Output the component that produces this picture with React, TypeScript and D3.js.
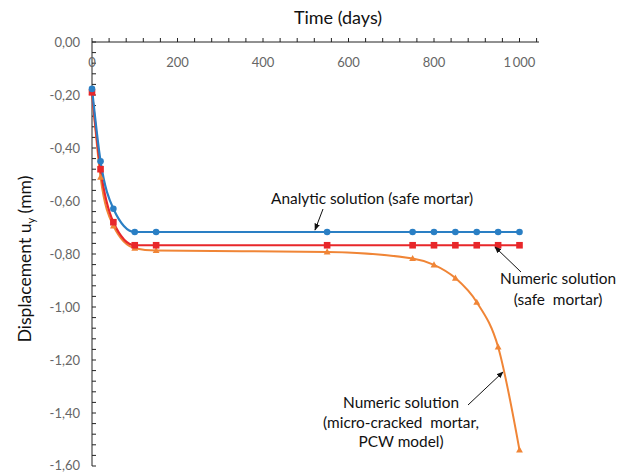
import React from "react";
import * as d3 from "d3";

const times = [0, 20, 50, 100, 150, 550, 750, 800, 850, 900, 950, 1000];
const analytic = [-0.177, -0.45, -0.629, -0.717, -0.717, -0.717, -0.717, -0.717, -0.717, -0.717, -0.717, -0.717];
const numericSafe = [-0.19, -0.48, -0.68, -0.767, -0.767, -0.767, -0.767, -0.767, -0.767, -0.767, -0.767, -0.767];
const numericCracked = [-0.19, -0.51, -0.694, -0.778, -0.787, -0.792, -0.817, -0.841, -0.891, -0.982, -1.151, -1.54];

const xMajorTicks = [0, 200, 400, 600, 800, 1000];
const yMajorTicks = [0, -0.2, -0.4, -0.6, -0.8, -1.0, -1.2, -1.4, -1.6];

const W = 629;
const H = 472;

export default function App() {
  const x = d3.scaleLinear().domain([0, 1040]).range([92, 536.6]);
  const y = d3.scaleLinear().domain([0, -1.6]).range([42, 466]);

  const xMinor = d3.range(0, 1041, 40);
  const yMinor = d3.range(0, 41, 1).map((i) => -i * 0.04);

  const line = (vals: number[]) =>
    d3
      .line<number>()
      .x((_, i) => x(times[i]))
      .y((v) => y(v))
      .curve(d3.curveMonotoneX)(vals) || "";

  const fmtY = (v: number) => v.toFixed(2).replace(".", ",").replace("-0,00", "0,00");
  const fmtX = (v: number) => (v >= 1000 ? "1\u2009000" : String(v));

  const blue = "#2A7FC4";
  const red = "#E8272A";
  const orange = "#F08536";
  const font = "Lato, 'Open Sans', sans-serif";
  const af = 15.4;

  const tri = (cx: number, cy: number, s: number) =>
    `M${cx},${cy - s} L${cx + s * 0.95},${cy + s * 0.7} L${cx - s * 0.95},${cy + s * 0.7} Z`;

  return (
    <svg width={W} height={H} style={{ position: "absolute", left: 0, top: 0, background: "#fff" }}>
      <defs>
        <marker id="ah" viewBox="0 0 10 10" refX="9" refY="5" markerWidth="7" markerHeight="7" orient="auto">
          <path d="M0,1 L10,5 L0,9 Z" fill="#111" />
        </marker>
      </defs>
      <rect width={W} height={H} fill="#fff" />
      {/* axes */}
      <line x1={x(0)} x2={539} y1={y(0)} y2={y(0)} stroke="#222" strokeWidth={1} />
      <line x1={x(0)} x2={x(0)} y1={y(0)} y2={y(-1.6)} stroke="#222" strokeWidth={1} />
      {xMinor.map((t) => (
        <line key={"xm" + t} x1={x(t)} x2={x(t)} y1={y(0) - 4} y2={y(0)} stroke="#222" strokeWidth={1} />
      ))}
      {yMinor.map((v, i) => (
        <line key={"ym" + i} x1={x(0)} x2={x(0) + 4} y1={y(v)} y2={y(v)} stroke="#222" strokeWidth={1} />
      ))}
      {xMajorTicks.map((t) => (
        <text key={"xl" + t} x={x(t)} y={67} textAnchor="middle" fontFamily={font} fontSize={13} fill="#666">
          {fmtX(t)}
        </text>
      ))}
      {yMajorTicks.map((v) => (
        <text key={"yl" + v} x={80} y={Math.min(y(v) + 4.5, 470)} textAnchor="end" fontFamily={font} fontSize={13} fill="#666">
          {fmtY(v)}
        </text>
      ))}
      <text x={338} y={24} textAnchor="middle" fontFamily={font} fontSize={18} fill="#111">
        Time (days)
      </text>
      <text transform="translate(31,259) rotate(-90)" textAnchor="middle" fontFamily={font} fontSize={17.5} fill="#111">
        Displacement u<tspan dy={4} fontSize={11}>y</tspan>
        <tspan dy={-4}> (mm)</tspan>
      </text>

      {/* series */}
      <path d={line(numericCracked)} fill="none" stroke={orange} strokeWidth={2} />
      <path d={line(numericSafe)} fill="none" stroke={red} strokeWidth={2.2} />
      <path d={line(analytic)} fill="none" stroke={blue} strokeWidth={2.2} />
      {numericCracked.map((v, i) => (
        <path key={"o" + i} d={tri(x(times[i]), y(v), 3.6)} fill={orange} />
      ))}
      {numericSafe.map((v, i) => (
        <rect key={"r" + i} x={x(times[i]) - 3.3} y={y(v) - 3.3} width={6.6} height={6.6} fill={red} />
      ))}
      {analytic.map((v, i) => (
        <circle key={"b" + i} cx={x(times[i])} cy={y(v)} r={3.3} fill={blue} />
      ))}

      {/* annotations */}
      <text x={271} y={204} fontFamily={font} fontSize={af} fill="#111">
        Analytic solution (safe mortar)
      </text>
      <line x1={323} y1={209} x2={315} y2={230} stroke="#111" strokeWidth={1} markerEnd="url(#ah)" />

      <text x={558} y={284} textAnchor="middle" fontFamily={font} fontSize={af} fill="#111">
        Numeric solution
      </text>
      <text x={558} y={305} textAnchor="middle" fontFamily={font} fontSize={af} fill="#111" style={{ whiteSpace: "pre" }}>
        (safe  mortar)
      </text>
      <line x1={521} y1={272} x2={495} y2={247} stroke="#111" strokeWidth={1} markerEnd="url(#ah)" />

      <text x={401} y={408} textAnchor="middle" fontFamily={font} fontSize={af} fill="#111">
        Numeric solution
      </text>
      <text x={401} y={428} textAnchor="middle" fontFamily={font} fontSize={af} fill="#111" style={{ whiteSpace: "pre" }}>
        (micro-cracked  mortar,
      </text>
      <text x={401} y={447} textAnchor="middle" fontFamily={font} fontSize={af} fill="#111">
        PCW model)
      </text>
      <line x1={468} y1={405} x2={503} y2={372} stroke="#111" strokeWidth={1} markerEnd="url(#ah)" />
    </svg>
  );
}
